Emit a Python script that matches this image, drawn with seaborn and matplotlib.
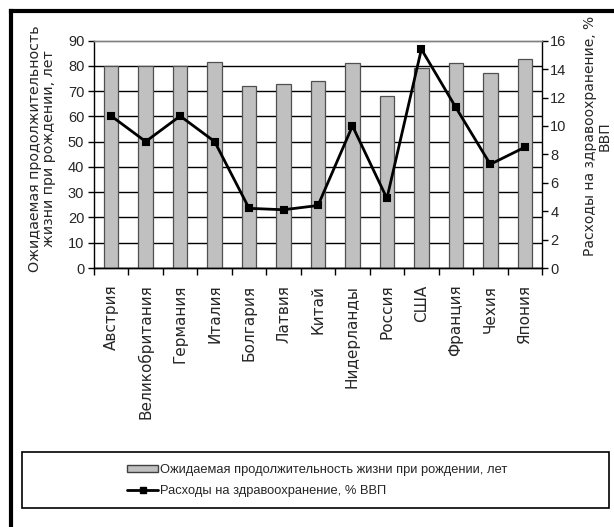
import matplotlib
matplotlib.use("Agg")
import matplotlib.pyplot as plt
from matplotlib.patches import Rectangle
from matplotlib.lines import Line2D
from matplotlib.ticker import FixedLocator, NullFormatter, FixedFormatter
import seaborn as sns
import pandas as pd

countries = ['Австрия', 'Великобритания', 'Германия', 'Италия', 'Болгария',
             'Латвия', 'Китай', 'Нидерланды', 'Россия', 'США', 'Франция',
             'Чехия', 'Япония']
life_expectancy = [80, 80, 80, 81.7, 72, 72.8, 74, 81, 68, 79.3, 81, 77.1, 82.8]
health_spending = [10.7, 8.9, 10.7, 8.9, 4.2, 4.1, 4.4, 10.0, 4.9, 15.4, 11.3, 7.3, 8.5]
left_ticks = [0, 10, 20, 30, 40, 50, 60, 70, 80, 90]
right_ticks = [0, 2, 4, 6, 8, 10, 12, 14, 16]

bar_label = 'Ожидаемая продолжительность жизни при рождении, лет'
line_label = 'Расходы на здравоохранение, % ВВП'

df = pd.DataFrame({'country': countries, 'life': life_expectancy,
                   'spend': health_spending})

sns.set_style('white')
plt.rcParams['font.family'] = ['DejaVu Sans']
NARROW = ['Liberation Sans Narrow', 'Liberation Sans', 'DejaVu Sans']

W, H = 614, 527
fig = plt.figure(figsize=(W / 100, H / 100), dpi=100)
L, R, T, B = 94, 542, 40.7, 268
ax = fig.add_axes([L / W, 1 - B / H, (R - L) / W, (B - T) / H])

sns.barplot(data=df, x='country', y='life', ax=ax, width=0.42,
            color='#C0C0C0', edgecolor='#505050', linewidth=0.9,
            saturation=1, zorder=2)

ax2 = ax.twinx()
sns.pointplot(data=df, x='country', y='spend', ax=ax2, color='black',
              markers='s', linestyles='-', errorbar=None,
              linewidth=2, markersize=5, zorder=5)

# primary axis: life expectancy
ax.set_ylim(0, 90)
ax.set_yticks(left_ticks)
ax.set_yticklabels([str(v) for v in left_ticks], family=NARROW, fontsize=10.5)
ax.yaxis.grid(True, color='black', linewidth=1)
ax.set_axisbelow(True)
ax.get_ygridlines()[-1].set_visible(False)

n = len(countries)
ax.set_xlim(-0.5, n - 0.5)
ax.xaxis.set_major_locator(FixedLocator([i - 0.5 for i in range(n + 1)]))
ax.xaxis.set_major_formatter(NullFormatter())
ax.xaxis.set_minor_locator(FixedLocator(list(range(n))))
ax.xaxis.set_minor_formatter(FixedFormatter(countries))
ax.tick_params(axis='x', which='major', direction='out', length=5, width=1,
               color='black', bottom=True)
ax.tick_params(axis='x', which='minor', length=0, pad=12, labelsize=11,
               labelrotation=90, bottom=True)
for lab in ax.xaxis.get_minorticklabels():
    lab.set_va('top')
    lab.set_ha('center')
ax.tick_params(axis='y', direction='out', length=4, width=1, color='black',
               pad=3, left=True)
ax.set_xlabel('')
ax.set_ylabel('Ожидаемая продолжительность\nжизни при рождении, лет',
              fontsize=10.3, linespacing=1.05)
ax.yaxis.label.set(ha='center', va='center', multialignment='center')
ax.yaxis.set_label_coords((42 - L) / (R - L), (B - 149) / (B - T))

# secondary axis: health spending
ax2.set_ylim(0, 16)
ax2.set_yticks(right_ticks)
ax2.set_yticklabels([str(v) for v in right_ticks], family=NARROW, fontsize=10.5)
ax2.tick_params(axis='y', direction='out', length=4, width=1, color='black',
                pad=2, right=True)
ax2.set_ylabel('Расходы на здравоохранение, %\nВВП', fontsize=10,
               linespacing=1.05)
ax2.yaxis.label.set(ha='center', va='center', multialignment='center',
                    rotation=90)
ax2.yaxis.set_label_coords((597 - L) / (R - L), (B - 136) / (B - T))

for a in (ax, ax2):
    for side in ('left', 'right', 'bottom'):
        a.spines[side].set_color('black')
        a.spines[side].set_linewidth(1)
    a.spines['top'].set_color('#808080')
    a.spines['top'].set_linewidth(1)
ax.spines['right'].set_visible(False)
ax2.spines['left'].set_visible(False)

# legend panel
fig.add_artist(Rectangle((22 / W, 1 - 508 / H), (609 - 22) / W, (508 - 452) / H,
                         transform=fig.transFigure, fill=False,
                         edgecolor='black', linewidth=1.2))
handles = [Rectangle((0, 0), 1, 1, facecolor='#C0C0C0', edgecolor='#404040',
                     linewidth=1),
           Line2D([], [], color='black', linewidth=2, marker='s',
                  markersize=5)]
leg = fig.legend(handles, [bar_label, line_label], loc='upper left',
                 bbox_to_anchor=(127 / W, 1 - 464 / H), frameon=False,
                 prop={'family': NARROW, 'size': 9.3}, handlelength=2.4,
                 handleheight=0.45, handletextpad=0.15, borderpad=0,
                 borderaxespad=0, labelspacing=0.7)

# outer frame (top and left edges)
fig.add_artist(Line2D([11 / W, 11 / W], [-0.1, 1 - 11 / H],
                      transform=fig.transFigure, color='black', linewidth=3,
                      solid_capstyle='projecting'))
fig.add_artist(Line2D([11 / W, 1.1], [1 - 11 / H, 1 - 11 / H],
                      transform=fig.transFigure, color='black', linewidth=3,
                      solid_capstyle='projecting'))

fig.savefig('out.png', dpi=100, facecolor='white')
